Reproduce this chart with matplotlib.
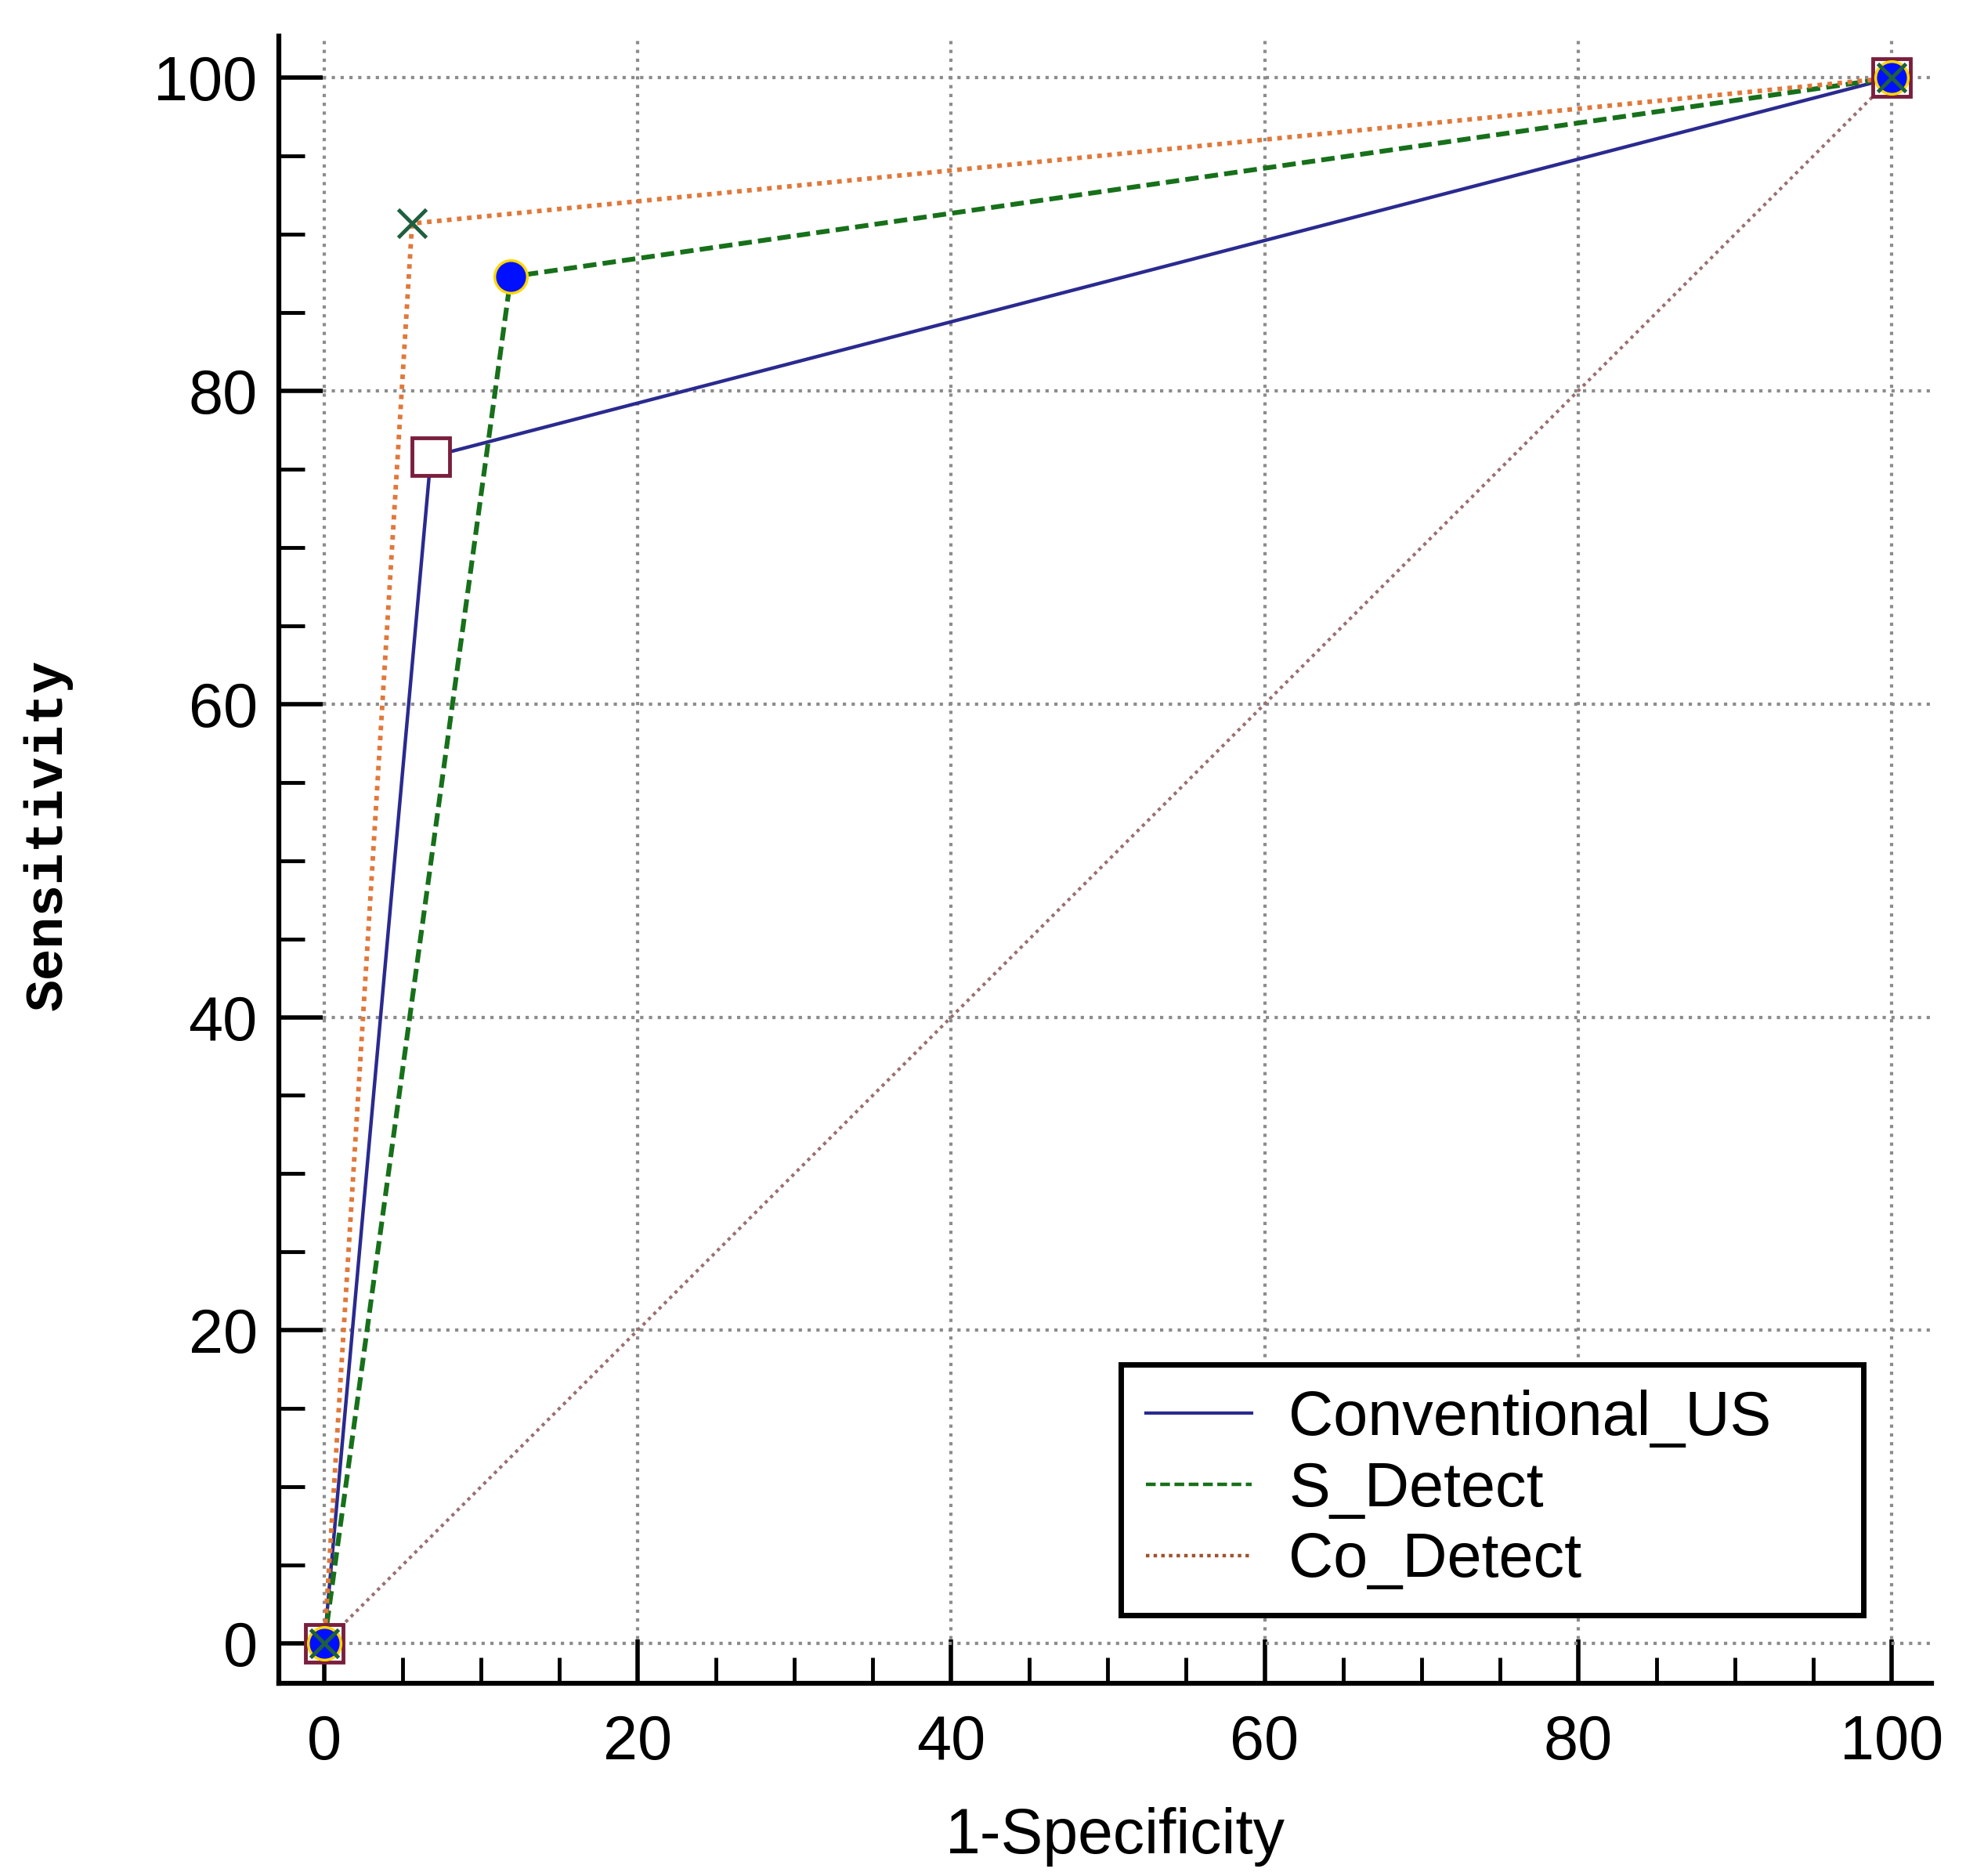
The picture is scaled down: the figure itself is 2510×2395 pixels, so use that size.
import numpy as np
import matplotlib
matplotlib.use("Agg")
import matplotlib.pyplot as plt
from matplotlib.ticker import MultipleLocator

# ROC points (1-Specificity, Sensitivity), in %
conv_x = [0, 6.8, 100]
conv_y = [0, 75.8, 100]
sdet_x = [0, 11.9, 100]
sdet_y = [0, 87.3, 100]
codet_x = [0, 5.6, 100]
codet_y = [0, 90.7, 100]
diag = [0, 100]

labels = ["Conventional_US", "S_Detect", "Co_Detect"]
ticks = [0, 20, 40, 60, 80, 100]

plt.rcParams['font.family'] = ['Liberation Sans', 'DejaVu Sans']

fig = plt.figure(figsize=(25.1, 23.95), dpi=100)
ax = fig.add_axes([0.142, 0.1027, 0.8405, 0.8783])

# reference line
ax.plot(diag, diag, color="#9a7070", lw=3.0, dashes=(1, 1.3), zorder=2)

l1, = ax.plot(conv_x, conv_y, color="#2a2a90", lw=3.2, zorder=3,
              label=labels[0])
l2, = ax.plot(sdet_x, sdet_y, color="#17701a", lw=4.4, dashes=(2.8, 1.3),
              zorder=3, label=labels[1])
l3, = ax.plot(codet_x, codet_y, color="#e0783a", lw=4.2, dashes=(1, 1.2),
              zorder=3, label=labels[2])

# markers
ax.plot(conv_x, conv_y, ls="none", marker="s", ms=35, mfc="white",
        mec="#7a1f3d", mew=3.5, zorder=4)
ax.plot(sdet_x, sdet_y, ls="none", marker="o", ms=30, mfc="#0010ff",
        mec="#ffd800", mew=2.5, zorder=5)
ax.plot(codet_x, codet_y, ls="none", marker="x", ms=26, mec="#1f5f3f",
        mew=3.5, zorder=6)

ax.set_xlim(-2.88, 102.56)
ax.set_ylim(-2.56, 102.7)

ax.set_xticks(ticks)
ax.set_yticks(ticks)
ax.xaxis.set_minor_locator(MultipleLocator(5))
ax.yaxis.set_minor_locator(MultipleLocator(5))

ax.grid(True, which="major", color="#8c8c8c", lw=3.0, dashes=(1, 1.7))
ax.set_axisbelow(True)

for s in ["top", "right"]:
    ax.spines[s].set_visible(False)
for s in ["left", "bottom"]:
    ax.spines[s].set_linewidth(4.5)

ax.tick_params(axis="both", which="major", direction="in", length=40,
               width=4, labelsize=57)
ax.tick_params(axis="both", which="minor", direction="in", length=24,
               width=3.5)
ax.tick_params(axis="x", which="major", pad=28)
ax.tick_params(axis="y", which="major", pad=20)

ax.set_xlabel("1-Specificity", fontsize=58)
ax.xaxis.set_label_coords(0.506, -0.075)
ax.set_ylabel("Sensitivity", fontsize=49, family="Liberation Mono",
              fontweight="bold")
ax.yaxis.set_label_coords(-0.125, 0.515)

leg = ax.legend(handles=[l1, l2, l3], loc="upper left",
                bbox_to_anchor=(0.5095, 0.0, 0.449, 0.1935), mode="expand",
                borderaxespad=0, fontsize=57, fancybox=False, framealpha=1,
                edgecolor="black", handlelength=1.7, handletextpad=0.6,
                labelspacing=0.2, borderpad=0.4)
leg.get_frame().set_linewidth(5)
leg.get_lines()[0].set_linewidth(3.0)
leg.get_lines()[1].set_linewidth(3.2)
leg.get_lines()[2].set_color("#a0522d")
leg.get_lines()[2].set_linewidth(3.2)

fig.savefig("out.png", dpi=100)
